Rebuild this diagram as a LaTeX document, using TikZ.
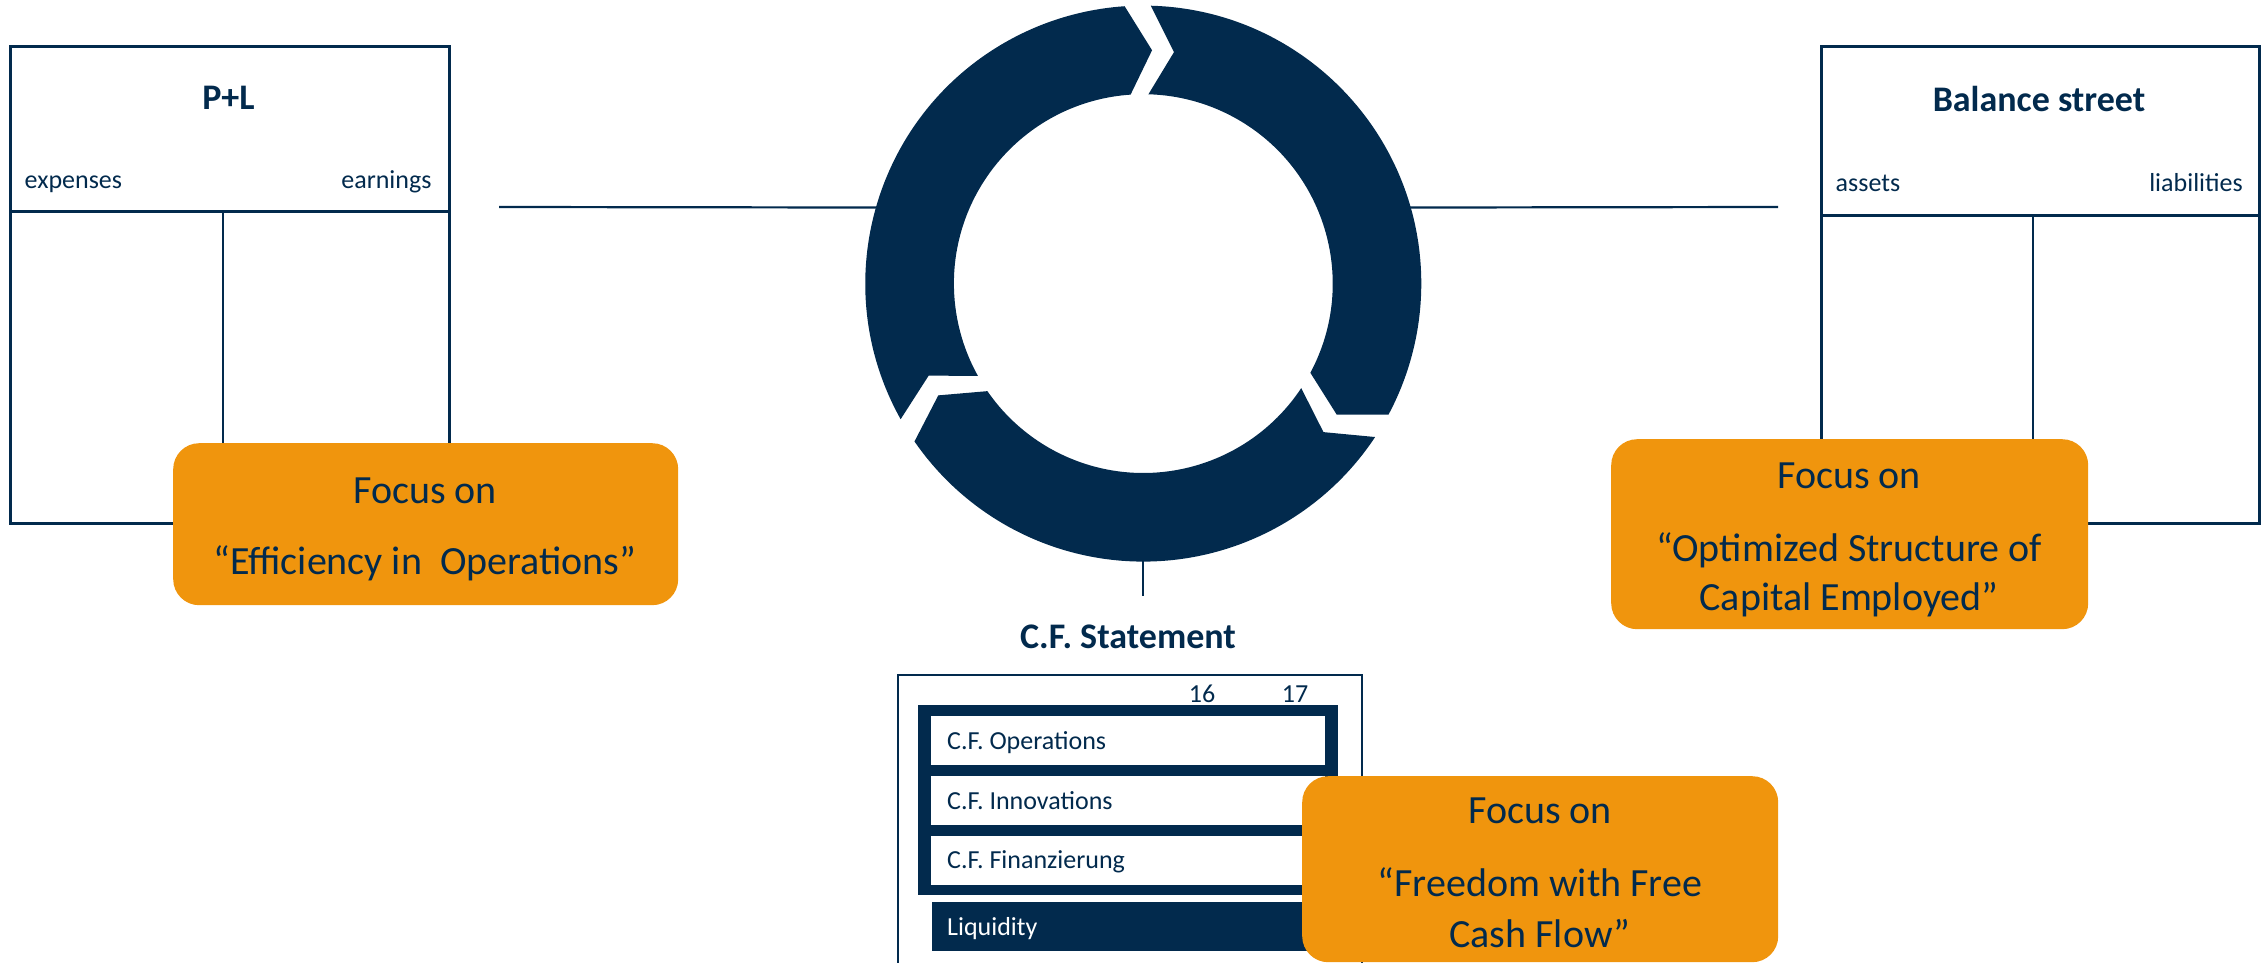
\documentclass[tikz,border=0pt]{standalone}
\usepackage{fontspec}
\setmainfont{Carlito}
\frenchspacing
\definecolor{navy}{HTML}{022A4D}
\definecolor{amber}{HTML}{F0950D}
\begin{document}
\begin{tikzpicture}[x=1pt,y=-1pt,
  frame/.style={draw=navy, line width=2.6pt, inner sep=0pt, anchor=north west},
  rule/.style={draw=navy, line width=2.2pt},
  focusbox/.style={fill=amber, rounded corners=26pt, inner sep=0pt, anchor=north west},
  lbl/.style={text=navy, font=\fontsize{26}{31}\selectfont, inner sep=0pt},
  title/.style={text=navy, font=\fontsize{36}{43}\selectfont\bfseries, inner sep=0pt, anchor=base},
  big/.style={text=navy, font=\fontsize{40}{48}\selectfont, inner sep=0pt, anchor=base},
  cfrow/.style={fill=white, inner sep=0pt, minimum width=394pt, minimum height=49pt, anchor=north west},
  rowtext/.style={lbl, anchor=base west},
]
\useasboundingbox (0,0) rectangle (2263,963);

% ---- P+L account (T-account)
\node[frame, minimum width=439pt, minimum height=477pt] (pl) at (9,45) {};
\draw[rule, line width=2.6pt] (9,211.5) -- (448,211.5);
\draw[rule, line width=2.6pt] (223,211.5) -- (223,522);
\node[title] (pltitle) at (228.5,110) {P+L};
\node[lbl, anchor=base west] (expenses) at (24.5,189) {expenses};
\node[lbl, anchor=base east] (earnings) at (431.7,189) {earnings};

% ---- Balance sheet account
\node[frame, minimum width=438pt, minimum height=477pt] (bal) at (1820,45) {};
\draw[rule, line width=2.6pt] (1820,215.5) -- (2258,215.5);
\draw[rule, line width=2.6pt] (2033,215.5) -- (2033,522);
\node[title] (baltitle) at (2039,112) {Balance street};
\node[lbl, anchor=base west] (assets) at (1835.5,192) {assets};
\node[lbl, anchor=base east] (liab) at (2243,192) {liabilities};

% ---- link points on the ring
\begin{scope}[shift={(1143.3,283.6)}]
  \coordinate (ringW) at (164:276pt);
  \coordinate (ringE) at (16:276pt);
  \coordinate (ringS) at (-90:276pt);
\end{scope}
\coordinate (plLink) at (499,207);
\coordinate (balLink) at (1778,207);
\coordinate (cfLink) at (1143.3,596);

\draw[rule] (plLink) -- (ringW);
\draw[rule] (ringE) -- (balLink);
\draw[rule] (ringS) -- (cfLink);

% ---- cycle of three arrow segments
\begin{scope}[shift={(1143.3,283.6)}]
  \fill[navy] (209.2:278pt) arc[start angle=209.2, end angle=93.85, radius=278pt]
    -- (87.85:233.5pt) -- (93.85:189.4pt)
    arc[start angle=93.85, end angle=209.2, radius=189.4pt]
    -- (203.2:233.5pt) -- cycle;
  \fill[navy] (88.45:278pt) arc[start angle=88.45, end angle=-28.1, radius=278pt]
    -- (-34.1:233.5pt) -- (-28.1:189.4pt)
    arc[start angle=-28.1, end angle=88.45, radius=189.4pt]
    -- (82.45:233.5pt) -- cycle;
  \fill[navy] (-33.5:278pt) arc[start angle=-33.5, end angle=-145.4, radius=278pt]
    -- (-151.4:233.5pt) -- (-145.4:189.4pt)
    arc[start angle=-145.4, end angle=-33.5, radius=189.4pt]
    -- (-39.5:233.5pt) -- cycle;
\end{scope}

% ---- cash flow statement
\node[title] (cftitle) at (1128,648) {C.F.\ Statement};
\draw[navy, line width=1.8pt] (898,963) -- (898,675) -- (1362,675) -- (1362,963);
\node[lbl, anchor=base] (y16) at (1202,702) {16};
\node[lbl, anchor=base] (y17) at (1295,702) {17};
\node[fill=navy, inner sep=0pt, minimum width=420pt, minimum height=190pt, anchor=north west] (cfframe) at (918,705) {};
\node[cfrow] (ops) at (931,716) {};
\node[cfrow] (inno) at (931,776) {};
\node[cfrow] (fin) at (931,835.5) {};
\node[cfrow, fill=navy] (liq) at (932,902) {};
\node[rowtext] at (947,749) {C.F.\ Operations};
\node[rowtext] at (947,809) {C.F.\ Innovations};
\node[rowtext] at (947,868.5) {C.F.\ Finanzierung};
\node[rowtext, text=white] at (947,935.5) {Liquidity};

% ---- focus call-outs
\node[focusbox, minimum width=505pt, minimum height=162pt] (fop) at (173,443) {};
\node[big] at (425,503) {Focus on};
\node[big] at (425,574) {“Efficiency in~~Operations”};

\node[focusbox, minimum width=477pt, minimum height=190pt] (fcap) at (1611,439) {};
\node[big] at (1849,488) {Focus on};
\node[big] at (1849,561) {“Optimized Structure of};
\node[big] at (1849,610) {Capital Employed”};

\node[focusbox, minimum width=476pt, minimum height=186pt] (fcash) at (1302,776) {};
\node[big] at (1540,823) {Focus on};
\node[big] at (1540,896) {“Freedom with Free};
\node[big] at (1540,947) {Cash Flow”};
\end{tikzpicture}
\end{document}
